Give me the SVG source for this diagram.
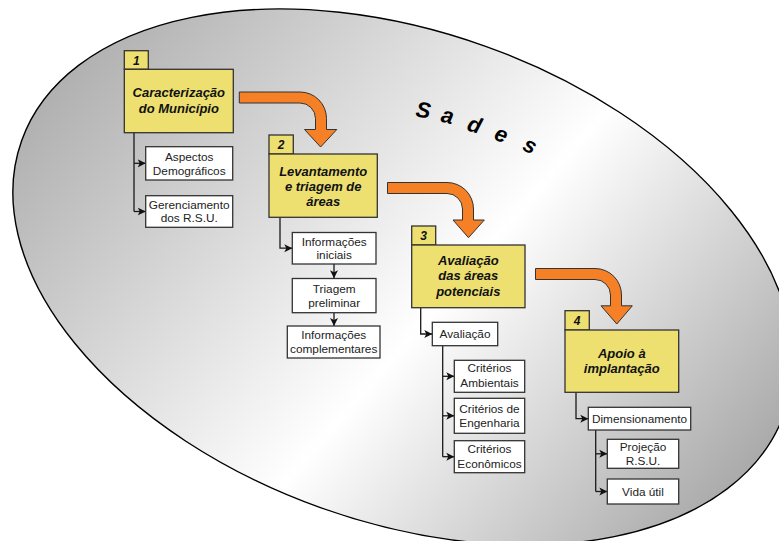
<svg xmlns="http://www.w3.org/2000/svg" width="779" height="541" viewBox="0 0 779 541">
  <defs>
    <!-- counter-rotated so the shading runs in page coordinates -->
    <linearGradient id="shade" gradientUnits="userSpaceOnUse" x1="100" y1="30" x2="760" y2="600" gradientTransform="rotate(-19.7 403 277)">
      <stop offset="0" stop-color="#b0b0b0"/>
      <stop offset="0.5" stop-color="#ffffff"/>
      <stop offset="1" stop-color="#939393"/>
    </linearGradient>
    <marker id="tip" markerUnits="userSpaceOnUse" markerWidth="10" markerHeight="10" refX="8" refY="4.5" orient="auto">
      <path d="M0,0.5 L8,4.5 L0,8.5 L2,4.5 Z" fill="#111"/>
    </marker>
    <style>
      .stage { fill: #ede070; stroke: #333; stroke-width: 1.3; }
      .item { fill: #ffffff; stroke: #333; stroke-width: 1.3; }
      .title { font-family: "Liberation Sans", Arial, sans-serif; font-size: 13px; font-weight: bold; font-style: italic; fill: #111; text-anchor: middle; }
      .num { font-family: "Liberation Sans", Arial, sans-serif; font-size: 12px; font-weight: bold; font-style: italic; fill: #111; text-anchor: middle; }
      .label { font-family: "Liberation Sans", Arial, sans-serif; font-size: 11.8px; fill: #222; text-anchor: middle; }
      .flow { fill: #f58025; stroke: #333; stroke-width: 1; stroke-linejoin: round; }
      .link { fill: none; stroke: #1a1a1a; stroke-width: 1.3; }
      .link-a { fill: none; stroke: #1a1a1a; stroke-width: 1.3; marker-end: url(#tip); }
      .brand { font-family: "Liberation Sans", Arial, sans-serif; font-size: 22px; font-weight: bold; font-style: italic; fill: #000; }
    </style>
  </defs>

  <!-- background system outline -->
  <ellipse cx="403" cy="277" rx="405" ry="245" transform="rotate(19.7 403 277)" fill="url(#shade)" stroke="#000" stroke-width="1.4"/>

  <!-- system name set along an arc -->
  <text class="brand">
    <tspan x="415" y="116.5" rotate="8">S</tspan><tspan x="440" y="121.5" rotate="13">a</tspan><tspan x="466" y="130" rotate="17">d</tspan><tspan x="493" y="139" rotate="21">e</tspan><tspan x="521.5" y="149.5" rotate="25">s</tspan>
  </text>

  <!-- stage-to-stage flow arrows -->
  <g id="flow-arrows">
    <path class="flow" d="M239.3,92 H300 A26.5,26.5 0 0 1 326.5,118.5 V129.5 H336.8 L320.6,147 L304.5,129.5 H315.5 V118.5 A15.5,15.5 0 0 0 300,103 H239.3 Z"/>
    <path class="flow" d="M387.5,182.5 H447 A26.5,26.5 0 0 1 473.5,209 V220 H484.3 L468.5,237.7 L453,220 H462.5 V209 A15.5,15.5 0 0 0 447,193.5 H387.5 Z"/>
    <path class="flow" d="M535.5,268.5 H595 A26.5,26.5 0 0 1 621.5,295 V305.8 H632.3 L616.8,324 L601,305.8 H610.5 V295 A15.5,15.5 0 0 0 595,279.5 H535.5 Z"/>
  </g>

  <!-- connectors -->
  <g id="connectors">
    <path class="link" d="M134,132.7 V211.5"/>
    <path class="link-a" d="M134,163.3 H145.7"/>
    <path class="link-a" d="M134,211.5 H145.7"/>

    <path class="link-a" d="M280,217.3 V248.2 H292.3"/>
    <path class="link-a" d="M334,264 V278.3"/>
    <path class="link-a" d="M334,312.7 V326"/>

    <path class="link-a" d="M420.7,307.7 V334 H432.3"/>
    <path class="link" d="M442.7,345.7 V456.7"/>
    <path class="link-a" d="M442.7,376.3 H454.3"/>
    <path class="link-a" d="M442.7,415.8 H454.3"/>
    <path class="link-a" d="M442.7,456.7 H454.3"/>

    <path class="link-a" d="M576,392.3 V418.7 H588.3"/>
    <path class="link" d="M595.7,430 V491.5"/>
    <path class="link-a" d="M595.7,453.8 H607.3"/>
    <path class="link-a" d="M595.7,491.5 H607.3"/>
  </g>

  <!-- stage 1 -->
  <g id="stage1">
    <rect class="stage" x="124.3" y="50.7" width="24" height="18.6"/>
    <text class="num" x="136.3" y="64.5">1</text>
    <rect class="stage" x="124.3" y="69.3" width="109" height="63.4"/>
    <text class="title" x="178.8" y="97.3">Caracterização</text>
    <text class="title" x="178.8" y="113.3">do Município</text>
  </g>
  <g id="aspectos">
    <rect class="item" x="145.7" y="146.7" width="87" height="33.3"/>
    <text class="label" x="189.2" y="161">Aspectos</text>
    <text class="label" x="189.2" y="174.5">Demográficos</text>
  </g>
  <g id="gerenciamento">
    <rect class="item" x="145.7" y="195.7" width="87" height="31.6"/>
    <text class="label" x="189.2" y="208.7">Gerenciamento</text>
    <text class="label" x="189.2" y="222.3">dos R.S.U.</text>
  </g>

  <!-- stage 2 -->
  <g id="stage2">
    <rect class="stage" x="269" y="135" width="24.3" height="19"/>
    <text class="num" x="281.2" y="149">2</text>
    <rect class="stage" x="269" y="154" width="108.3" height="63.3"/>
    <text class="title" x="323.2" y="175.5">Levantamento</text>
    <text class="title" x="323.2" y="190.8">e triagem de</text>
    <text class="title" x="323.2" y="206">áreas</text>
  </g>
  <g id="info-iniciais">
    <rect class="item" x="292.3" y="232.5" width="83.7" height="31.5"/>
    <text class="label" x="334.2" y="245.7">Informações</text>
    <text class="label" x="334.2" y="259.3">iniciais</text>
  </g>
  <g id="triagem">
    <rect class="item" x="292.3" y="278.5" width="83.7" height="34.2"/>
    <text class="label" x="334.2" y="292.7">Triagem</text>
    <text class="label" x="334.2" y="306.5">preliminar</text>
  </g>
  <g id="info-complementares">
    <rect class="item" x="287.3" y="326" width="92.7" height="32"/>
    <text class="label" x="333.7" y="338.8">Informações</text>
    <text class="label" x="333.7" y="352.7">complementares</text>
  </g>

  <!-- stage 3 -->
  <g id="stage3">
    <rect class="stage" x="411.7" y="226" width="24" height="19"/>
    <text class="num" x="423.7" y="240">3</text>
    <rect class="stage" x="411.7" y="245" width="113.3" height="62.7"/>
    <text class="title" x="468.3" y="264.8">Avaliação</text>
    <text class="title" x="468.3" y="280.3">das áreas</text>
    <text class="title" x="468.3" y="295.5">potenciais</text>
  </g>
  <g id="avaliacao">
    <rect class="item" x="432.3" y="322.3" width="65.4" height="23.4"/>
    <text class="label" x="465" y="338">Avaliação</text>
  </g>
  <g id="criterios-ambientais">
    <rect class="item" x="454.3" y="360.3" width="70.4" height="32"/>
    <text class="label" x="489.5" y="372">Critérios</text>
    <text class="label" x="489.5" y="386.5">Ambientais</text>
  </g>
  <g id="criterios-engenharia">
    <rect class="item" x="454.3" y="398.3" width="70.4" height="35"/>
    <text class="label" x="489.5" y="412.8">Critérios de</text>
    <text class="label" x="489.5" y="427">Engenharia</text>
  </g>
  <g id="criterios-economicos">
    <rect class="item" x="454.3" y="440.7" width="70.4" height="32"/>
    <text class="label" x="489.5" y="453.3">Critérios</text>
    <text class="label" x="489.5" y="467.5">Econômicos</text>
  </g>

  <!-- stage 4 -->
  <g id="stage4">
    <rect class="stage" x="565" y="310.7" width="24.3" height="19.3"/>
    <text class="num" x="577.2" y="325">4</text>
    <rect class="stage" x="565" y="330" width="113.7" height="62.3"/>
    <text class="title" x="621.8" y="357.5">Apoio à</text>
    <text class="title" x="621.8" y="373.3">implantação</text>
  </g>
  <g id="dimensionamento">
    <rect class="item" x="588.3" y="407.3" width="102.4" height="22.7"/>
    <text class="label" x="639.5" y="423">Dimensionamento</text>
  </g>
  <g id="projecao">
    <rect class="item" x="607.3" y="439.3" width="71.4" height="29"/>
    <text class="label" x="643" y="451">Projeção</text>
    <text class="label" x="643" y="465">R.S.U.</text>
  </g>
  <g id="vida-util">
    <rect class="item" x="607.3" y="479" width="71.4" height="25"/>
    <text class="label" x="643" y="495.5">Vida útil</text>
  </g>
</svg>
